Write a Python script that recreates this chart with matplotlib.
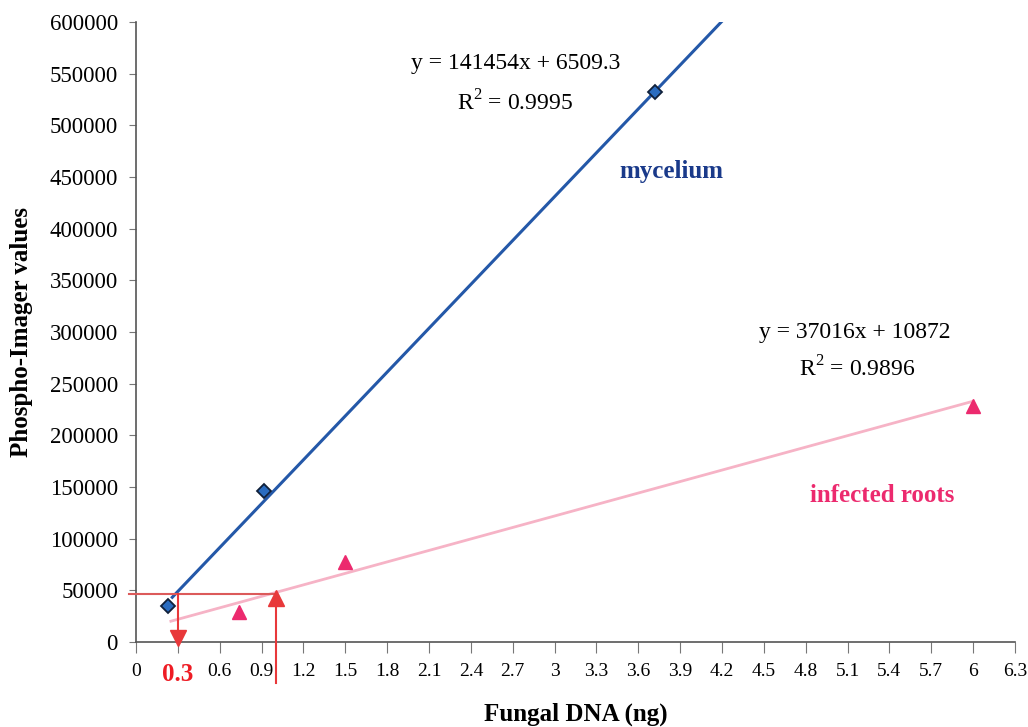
import matplotlib.pyplot as plt

plt.rcParams['font.family'] = ['Liberation Serif', 'DejaVu Serif']
plt.rcParams['mathtext.fontset'] = 'custom'
plt.rcParams['mathtext.rm'] = 'Liberation Serif'

# mycelium standard
myc_x = [0.23, 0.92, 3.72]
myc_y = [34800, 146000, 532000]
myc_slope, myc_icpt = 141454, 6509.3
myc_range = [0.26, 4.2]

# infected roots
root_x = [0.74, 1.5, 6.0]
root_y = [29000, 77400, 228000]
root_slope, root_icpt = 37016, 10872
root_range = [0.25, 6.0]

# read-off guide
guide_y = 46500
guide_x_low, guide_x_high = 0.3, 1.0

xticks = [round(0.3 * i, 1) for i in range(22)]
xtick_labels = ['0', '0.3', '0.6', '0.9', '1.2', '1.5', '1.8', '2.1', '2.4', '2.7', '3',
                '3.3', '3.6', '3.9', '4.2', '4.5', '4.8', '5.1', '5.4', '5.7', '6', '6.3']
yticks = list(range(0, 600001, 50000))

fig = plt.figure(figsize=(10.28, 7.27), dpi=100)
ax = fig.add_axes([0.1323, 0.1169, 0.855, 0.853])

blue = '#2458a8'
pink_line = '#f6b3c6'
pink = '#ec2a6e'
red = '#e8383a'

# trend lines
ax.plot(myc_range, [myc_slope * x + myc_icpt for x in myc_range], color=blue, lw=2.2, zorder=3)
ax.plot(root_range, [root_slope * x + root_icpt for x in root_range], color=pink_line, lw=2, zorder=2)

# data points
ax.plot(myc_x, myc_y, 'D', ms=7, mfc='#2a6cc0', mec='#10203a', mew=1.3, zorder=5)
ax.plot(root_x, root_y, '^', ms=10, color=pink, mec=pink, zorder=5)

# red read-off arrows
ax.plot([-0.05, guide_x_high], [guide_y, guide_y], color='#dc5a5a', lw=1.5, clip_on=False, zorder=4)
ax.plot([guide_x_low, guide_x_low], [guide_y, 3000], color=red, lw=1.5, zorder=4)
ax.plot([guide_x_low], [4000], 'v', ms=12, color=red, clip_on=False, zorder=6)
ax.plot([guide_x_high, guide_x_high], [-40000, guide_y - 5000], color=red, lw=1.5, clip_on=False, zorder=4)
ax.plot([guide_x_high], [42500], '^', ms=12, color=red, clip_on=False, zorder=6)

# equations and labels
ax.text(2.72, 560000, 'y = 141454x + 6509.3', fontsize=17, ha='center', va='center')
ax.text(2.72, 522000, 'R$^2$ = 0.9995', fontsize=17, ha='center', va='center')
ax.text(3.84, 455000, 'mycelium', fontsize=18, fontweight='bold', color='#1a3a8a', ha='center', va='center')
ax.text(5.15, 299000, 'y = 37016x + 10872', fontsize=17, ha='center', va='center')
ax.text(5.17, 264000, 'R$^2$ = 0.9896', fontsize=17, ha='center', va='center')
ax.text(5.35, 142000, 'infected roots', fontsize=18, fontweight='bold', color=pink, ha='center', va='center')

ax.set_xlim(0, 6.3)
ax.set_ylim(0, 600000)
ax.set_xticks(xticks)
ax.set_xticklabels(xtick_labels, fontsize=14)
ax.set_yticks(yticks)
ax.set_yticklabels([str(v) for v in yticks], fontsize=16.5)
lbl = ax.get_xticklabels()[1]
lbl.set_color('#ee1c24')
lbl.set_fontweight('bold')
lbl.set_fontsize(18)

ax.tick_params(axis='x', direction='out', length=8, color='#777777', pad=7)
ax.tick_params(axis='y', direction='out', length=5, color='#777777', pad=8)
for s in ['top', 'right']:
    ax.spines[s].set_visible(False)
for s in ['left', 'bottom']:
    ax.spines[s].set_color('#555555')
    ax.spines[s].set_linewidth(1.2)

ax.set_xlabel('Fungal DNA (ng)', fontsize=18, fontweight='bold', labelpad=12)
ax.set_ylabel('Phospho-Imager values', fontsize=18, fontweight='bold', labelpad=12)

fig.savefig('out.png', dpi=100)
